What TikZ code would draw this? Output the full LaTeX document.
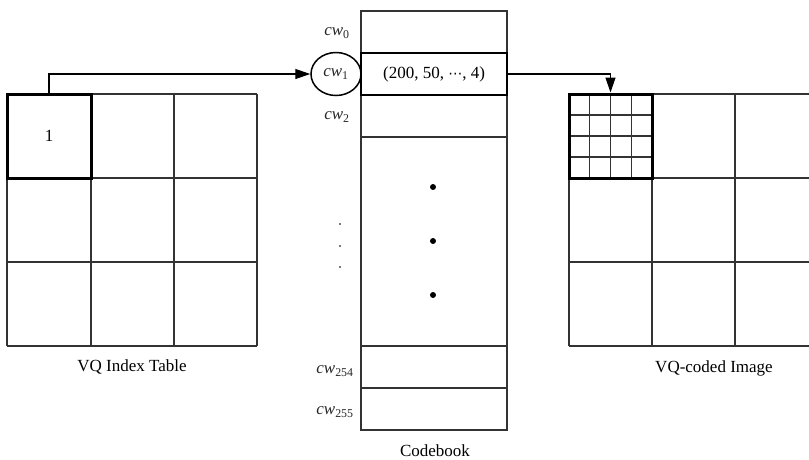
\documentclass[tikz,border=0pt]{standalone}
\usepackage{fontspec}
\setmainfont{Liberation Serif}
\newfontfamily\dejasans{DejaVu Sans}
\usetikzlibrary{arrows.meta,shapes.geometric}
\begin{document}
\begin{tikzpicture}[x=1pt,y=-1pt,
  thin line/.style={draw=black!80,line width=1.3pt},
  thick line/.style={draw=black,line width=3pt},
  arr/.style={draw=black,line width=1.3pt,-{Triangle[length=15pt,width=10pt]}},
  lbl/.style={font=\fontsize{17}{20}\selectfont},
  cwl/.style={font=\fontsize{17}{20}\selectfont,inner sep=0pt,text=black!85},
  bigdot/.style={circle,fill=black,inner sep=0pt,minimum size=6pt},
  smalldot/.style={circle,fill=black!70,inner sep=0pt,minimum size=2.2pt}]
\useasboundingbox (0,0) rectangle (809,459);
% ---- left VQ index table ----
\foreach \x in {7,91,174,257} \draw[thin line] (\x,94) -- (\x,346);
\foreach \y in {94,178,262,346} \draw[thin line] (7,\y) -- (257,\y);
\node[thick line,rectangle,minimum width=84pt,minimum height=84pt,inner sep=0pt,lbl] (cell1) at (49,136) {1};
\node[lbl] (lt) at (132,367) {VQ Index Table};
% ---- codebook ----
\draw[thin line] (361,11) rectangle (507,430);
\foreach \y in {137,346,388} \draw[thin line] (361,\y) -- (507,\y);
\node[draw=black,line width=2pt,rectangle,minimum width=146pt,minimum height=42pt,inner sep=0pt,lbl] (r1) at (434,74) {(200, 50, {\dejasans\fontsize{14}{18}\selectfont ⋯}, 4)};
\node[ellipse,draw=black,line width=1.5pt,minimum width=50pt,minimum height=43pt,inner sep=0pt,cwl] (cw1) at (336,74) {\textit{cw}\textsubscript{1}};
\node[cwl] (cw0) at (337,33) {\textit{cw}\textsubscript{0}};
\node[cwl] (cw2) at (337,117) {\textit{cw}\textsubscript{2}};
\node[cwl] (cw254) at (335,371) {\textit{cw}\textsubscript{254}};
\node[cwl] (cw255) at (335,412) {\textit{cw}\textsubscript{255}};
\node[bigdot] (d1) at (433,187) {};
\node[bigdot] (d2) at (433,241) {};
\node[bigdot] (d3) at (433,295) {};
\node[smalldot] (s1) at (340,224) {};
\node[smalldot] (s2) at (340,246) {};
\node[smalldot] (s3) at (340,267) {};
\node[lbl,inner sep=0pt,anchor=base] (cbt) at (435,456) {Codebook};
% ---- right VQ-coded image ----
\foreach \x in {569,652,735} \draw[thin line] (\x,94) -- (\x,346);
\foreach \y in {94,178,262,346} \draw[thin line] (569,\y) -- (809,\y);
\foreach \i in {1,2,3} {
  \draw[thin line] (569+20.75*\i,94) -- (569+20.75*\i,178);
  \draw[thin line] (569,94+21*\i) -- (652,94+21*\i);
}
\node[thick line,rectangle,minimum width=83pt,minimum height=84pt,inner sep=0pt] (blk) at (610.5,136) {};
\node[lbl] (rt) at (714,368) {VQ-coded Image};
% ---- connectors ----
\draw[arr] (cell1.north) |- (cw1.west);
\draw[arr] (r1.east) -| (blk.north);
\end{tikzpicture}
\end{document}
